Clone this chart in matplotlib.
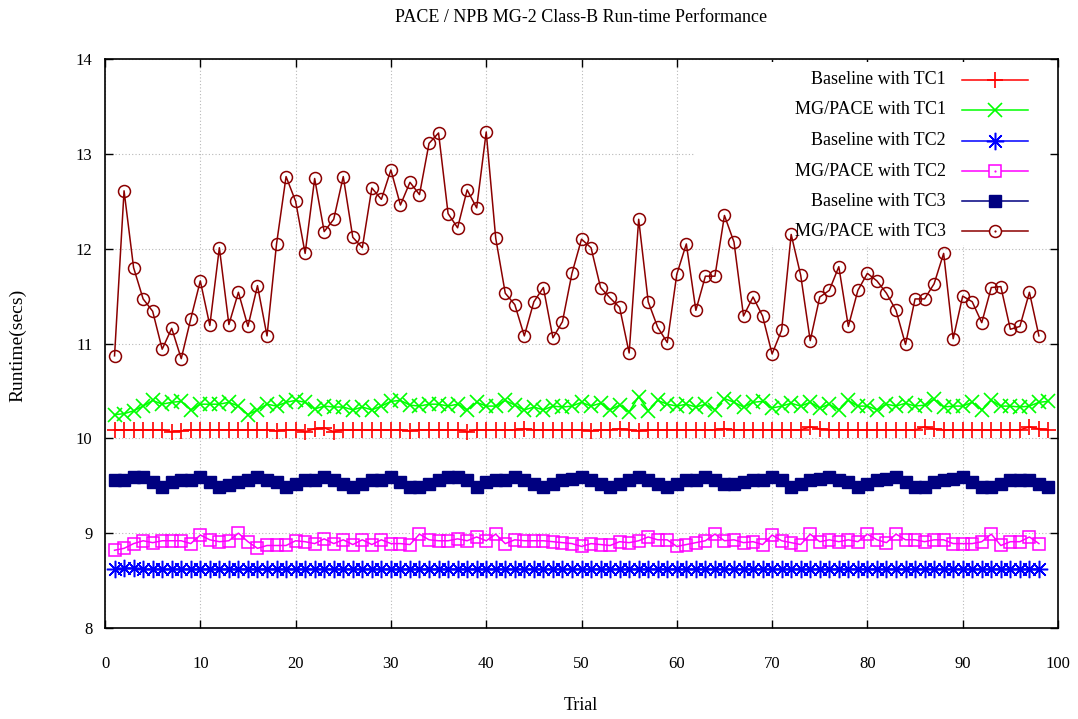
import numpy as np
import matplotlib
matplotlib.use("Agg")
import matplotlib.pyplot as plt
from matplotlib.patches import Rectangle

plt.rcParams['font.family'] = ['Liberation Serif', 'DejaVu Serif']

# ---- data -------------------------------------------------------------
baseline_tc1 = [
    10.09, 10.09, 10.09, 10.09, 10.09, 10.09, 10.07, 10.08, 10.09, 10.09,
    10.09, 10.09, 10.09, 10.09, 10.09, 10.09, 10.09, 10.08, 10.09, 10.09,
    10.07, 10.10, 10.11, 10.07, 10.09, 10.09, 10.09, 10.09, 10.09, 10.09,
    10.09, 10.08, 10.09, 10.09, 10.09, 10.09, 10.09, 10.07, 10.09, 10.09,
    10.09, 10.09, 10.09, 10.10, 10.09, 10.09, 10.09, 10.09, 10.09, 10.09,
    10.08, 10.09, 10.09, 10.10, 10.09, 10.08, 10.09, 10.09, 10.09, 10.09,
    10.09, 10.09, 10.09, 10.09, 10.10, 10.09, 10.09, 10.09, 10.09, 10.09,
    10.09, 10.09, 10.09, 10.12, 10.10, 10.09, 10.09, 10.09, 10.09, 10.09,
    10.09, 10.09, 10.09, 10.09, 10.09, 10.12, 10.10, 10.09, 10.09, 10.09,
    10.09, 10.09, 10.09, 10.09, 10.09, 10.09, 10.12, 10.10, 10.09,
]

mgpace_tc1 = [
    10.25, 10.26, 10.29, 10.34, 10.40, 10.36, 10.38, 10.39, 10.30, 10.36,
    10.36, 10.36, 10.38, 10.34, 10.25, 10.30, 10.36, 10.34, 10.38, 10.40,
    10.38, 10.31, 10.34, 10.33, 10.33, 10.30, 10.33, 10.30, 10.34, 10.39,
    10.40, 10.35, 10.34, 10.36, 10.36, 10.34, 10.36, 10.30, 10.38, 10.34,
    10.34, 10.40, 10.35, 10.30, 10.33, 10.30, 10.34, 10.33, 10.34, 10.38,
    10.34, 10.37, 10.30, 10.35, 10.28, 10.44, 10.29, 10.40, 10.36, 10.34,
    10.36, 10.33, 10.36, 10.30, 10.42, 10.38, 10.33, 10.38, 10.39, 10.32,
    10.34, 10.37, 10.34, 10.38, 10.32, 10.36, 10.30, 10.40, 10.34, 10.34,
    10.30, 10.36, 10.34, 10.37, 10.34, 10.35, 10.41, 10.33, 10.34, 10.34,
    10.38, 10.30, 10.40, 10.34, 10.34, 10.33, 10.34, 10.38, 10.39,
]

baseline_tc2 = [
    8.62, 8.63, 8.63, 8.62, 8.62, 8.62, 8.62, 8.62, 8.62, 8.62,
    8.62, 8.62, 8.62, 8.62, 8.62, 8.62, 8.62, 8.62, 8.62, 8.62,
    8.62, 8.62, 8.62, 8.62, 8.62, 8.62, 8.62, 8.62, 8.62, 8.62,
    8.62, 8.62, 8.62, 8.62, 8.62, 8.62, 8.62, 8.62, 8.62, 8.62,
    8.62, 8.62, 8.62, 8.62, 8.62, 8.62, 8.62, 8.62, 8.62, 8.62,
    8.62, 8.62, 8.62, 8.62, 8.62, 8.62, 8.62, 8.62, 8.62, 8.62,
    8.62, 8.62, 8.62, 8.62, 8.62, 8.62, 8.62, 8.62, 8.62, 8.62,
    8.62, 8.62, 8.62, 8.62, 8.62, 8.62, 8.62, 8.62, 8.62, 8.62,
    8.62, 8.62, 8.62, 8.62, 8.62, 8.62, 8.62, 8.62, 8.62, 8.62,
    8.62, 8.62, 8.62, 8.62, 8.62, 8.62, 8.62, 8.62,
]

mgpace_tc2 = [
    8.82, 8.84, 8.89, 8.92, 8.90, 8.92, 8.92, 8.92, 8.89, 8.98,
    8.93, 8.91, 8.92, 9.00, 8.91, 8.84, 8.87, 8.87, 8.87, 8.92,
    8.91, 8.89, 8.94, 8.89, 8.93, 8.88, 8.93, 8.88, 8.93, 8.89,
    8.89, 8.88, 8.99, 8.93, 8.92, 8.92, 8.94, 8.92, 8.96, 8.92,
    8.99, 8.89, 8.93, 8.92, 8.92, 8.92, 8.91, 8.90, 8.89, 8.86,
    8.89, 8.88, 8.87, 8.91, 8.90, 8.92, 8.96, 8.93, 8.93, 8.86,
    8.88, 8.90, 8.92, 8.99, 8.92, 8.93, 8.90, 8.91, 8.88, 8.98,
    8.92, 8.90, 8.88, 8.99, 8.91, 8.93, 8.91, 8.93, 8.91, 8.99,
    8.93, 8.90, 8.99, 8.93, 8.93, 8.91, 8.93, 8.93, 8.89, 8.89,
    8.89, 8.91, 8.99, 8.87, 8.91, 8.91, 8.96, 8.89,
]

baseline_tc3 = [
    9.56, 9.56, 9.59, 9.59, 9.54, 9.49, 9.54, 9.56, 9.56, 9.59,
    9.54, 9.49, 9.51, 9.54, 9.56, 9.59, 9.56, 9.54, 9.49, 9.52,
    9.56, 9.56, 9.59, 9.56, 9.52, 9.49, 9.52, 9.56, 9.56, 9.59,
    9.54, 9.49, 9.49, 9.52, 9.56, 9.59, 9.59, 9.56, 9.49, 9.54,
    9.56, 9.56, 9.59, 9.56, 9.52, 9.49, 9.52, 9.56, 9.57, 9.59,
    9.56, 9.52, 9.49, 9.52, 9.56, 9.59, 9.56, 9.52, 9.49, 9.52,
    9.56, 9.56, 9.59, 9.56, 9.52, 9.52, 9.54, 9.56, 9.56, 9.59,
    9.56, 9.49, 9.52, 9.56, 9.57, 9.59, 9.56, 9.54, 9.49, 9.52,
    9.56, 9.57, 9.59, 9.54, 9.49, 9.49, 9.54, 9.56, 9.57, 9.59,
    9.54, 9.49, 9.49, 9.52, 9.56, 9.56, 9.56, 9.52, 9.49,
]

mgpace_tc3 = [
    10.87, 12.61, 11.80, 11.47, 11.34, 10.94, 11.16, 10.84, 11.26, 11.66,
    11.19, 12.01, 11.20, 11.54, 11.18, 11.61, 11.08, 12.05, 12.76, 12.50,
    11.95, 12.74, 12.18, 12.31, 12.76, 12.12, 12.01, 12.64, 12.52, 12.83,
    12.46, 12.70, 12.57, 13.11, 13.22, 12.37, 12.22, 12.62, 12.43, 13.23,
    12.11, 11.53, 11.41, 11.08, 11.44, 11.59, 11.06, 11.23, 11.74, 12.10,
    12.01, 11.59, 11.48, 11.38, 10.90, 12.31, 11.44, 11.17, 11.01, 11.73,
    12.05, 11.35, 11.71, 11.71, 12.35, 12.07, 11.29, 11.49, 11.29, 10.89,
    11.14, 12.15, 11.72, 11.03, 11.49, 11.56, 11.81, 11.18, 11.56, 11.74,
    11.66, 11.53, 11.35, 10.99, 11.47, 11.47, 11.63, 11.95, 11.05, 11.50,
    11.44, 11.22, 11.59, 11.60, 11.15, 11.18, 11.54, 11.08,
]

labels = [
    "Baseline with TC1", "MG/PACE with TC1",
    "Baseline with TC2", "MG/PACE with TC2",
    "Baseline with TC3", "MG/PACE with TC3",
]
x_ticks = [0, 10, 20, 30, 40, 50, 60, 70, 80, 90, 100]
y_ticks = [8, 9, 10, 11, 12, 13, 14]

# ---- styles -----------------------------------------------------------
ASTER = (8, 2, 0)
styles = [
    dict(color="#ff0000", marker="+", ms=11, mew=1.2, mfc="none", dot=False),
    dict(color="#00ff00", marker="x", ms=10, mew=1.2, mfc="none", dot=False),
    dict(color="#0000ff", marker=ASTER, ms=12.5, mew=1.1, mfc="none", dot=False),
    dict(color="#ff00ff", marker="s", ms=8.6, mew=1.1, mfc="none", dot=True),
    dict(color="#000080", marker="s", ms=8.6, mew=1.0, mfc="#000080", dot=False),
    dict(color="#8b0000", marker="o", ms=8.6, mew=1.1, mfc="none", dot=True),
]
series = [baseline_tc1, mgpace_tc1, baseline_tc2, mgpace_tc2,
          baseline_tc3, mgpace_tc3]

W, H = 1078, 719
fig = plt.figure(figsize=(W / 100, H / 100), dpi=100)
L, R, T, B = 105, 1058, 59, 628
ax = fig.add_axes([L / W, 1 - B / H, (R - L) / W, (B - T) / H])

for vals, st in zip(series, styles):
    xs = np.arange(1, len(vals) + 1)
    ax.plot(xs, vals, color=st["color"], lw=1.1, marker=st["marker"],
            ms=st["ms"], mew=st["mew"], mfc=st["mfc"], mec=st["color"],
            zorder=3)

ax.set_xlim(0, 100)
ax.set_ylim(8, 14)
ax.set_xticks(x_ticks)
ax.set_yticks(y_ticks)
ax.tick_params(direction="in", length=6, width=1.0, top=True, right=True,
               labelsize=12)
ax.tick_params(axis="x", pad=20)
ax.tick_params(axis="y", pad=9)
for sp in ax.spines.values():
    sp.set_linewidth(1.2)

ax.set_axisbelow(True)
ax.grid(True, color="#b8b8b8", lw=0.8, linestyle=(0, (1, 2)))


def to_ax(px, py):
    return (px - L) / (R - L), (B - py) / (B - T)


# opaque key area
x0, y0 = to_ax(695, 245)
x1, y1 = to_ax(1050, 62)
ax.add_patch(Rectangle((x0, y0), x1 - x0, y1 - y0, transform=ax.transAxes,
                       facecolor="white", edgecolor="none", zorder=1))

rows = [80, 110, 140.7, 171, 201, 231]
for lab, st, py in zip(labels, styles, rows):
    tx, ty = to_ax(946, py)
    ax.text(tx, ty, lab, transform=ax.transAxes, ha="right", va="center",
            fontsize=13, zorder=5)
    lx0, _ = to_ax(962, py)
    lx1, _ = to_ax(1028, py)
    mx, _ = to_ax(995, py)
    ax.plot([lx0, lx1], [ty, ty], transform=ax.transAxes, color=st["color"],
            lw=1.1, zorder=5, clip_on=False)
    ax.plot([mx], [ty], transform=ax.transAxes, color=st["color"],
            marker=st["marker"], ms=st["ms"], mew=st["mew"],
            mfc=("white" if st["mfc"] == "none" else st["mfc"]),
            mec=st["color"], zorder=6, clip_on=False)
    if st["dot"]:
        ax.plot([mx], [ty], transform=ax.transAxes, color=st["color"],
                marker="o", ms=1.6, mew=0, zorder=7, clip_on=False)

fig.text(581 / W, 1 - 17 / H, "PACE / NPB MG-2 Class-B Run-time Performance",
         ha="center", va="center", fontsize=13)
fig.text(18 / W, 1 - 345 / H, "Runtime(secs)", rotation=90,
         ha="center", va="center", fontsize=14)
fig.text(581 / W, 1 - 706 / H, "Trial", ha="center", va="center", fontsize=13)

fig.savefig("out.png", dpi=100)
